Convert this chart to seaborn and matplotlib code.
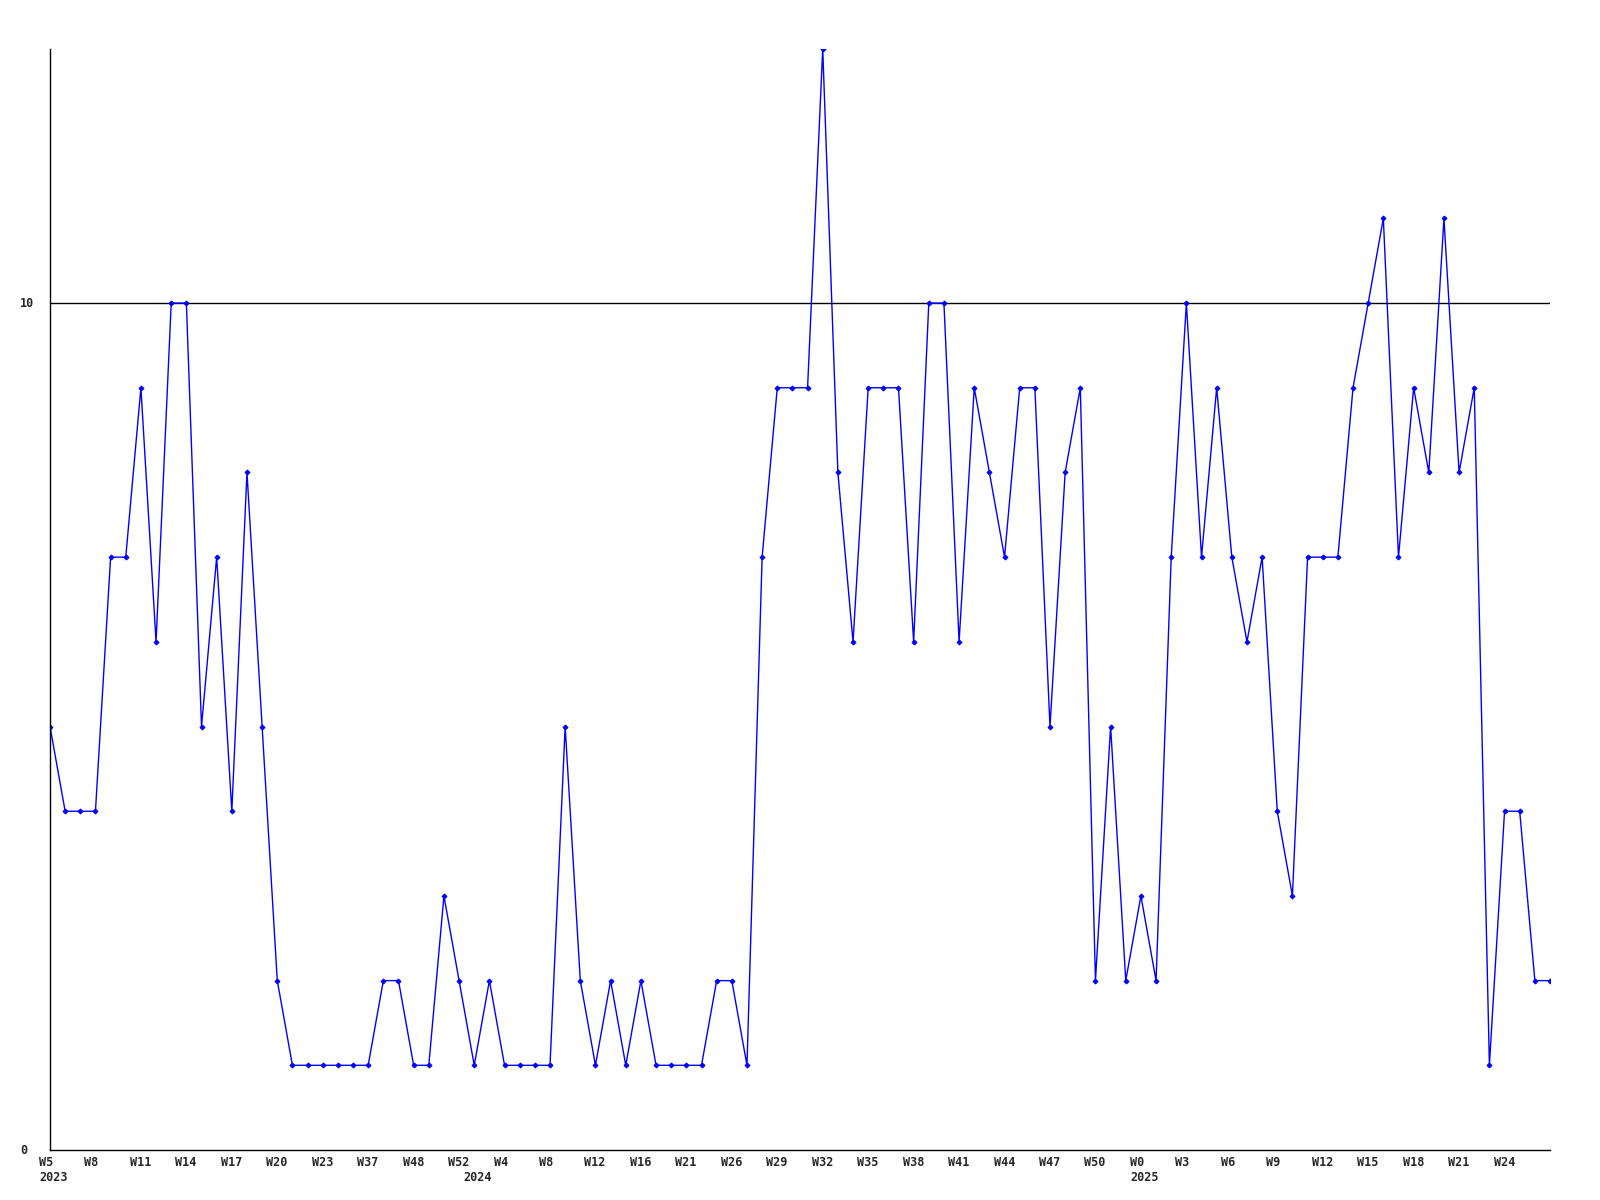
import matplotlib
matplotlib.use("Agg")
import matplotlib.pyplot as plt
import matplotlib.transforms as mtransforms
import seaborn as sns
import pandas as pd

# ---- data ----
values = [5, 4, 4, 4, 7, 7, 9, 6, 10, 10,
          5, 7, 4, 8, 5, 2, 1, 1, 1, 1,
          1, 1, 2, 2, 1, 1, 3, 2, 1, 2,
          1, 1, 1, 1, 5, 2, 1, 2, 1, 2,
          1, 1, 1, 1, 2, 2, 1, 7, 9, 9,
          9, 13, 8, 6, 9, 9, 9, 6, 10, 10,
          6, 9, 8, 7, 9, 9, 5, 8, 9, 2,
          5, 2, 3, 2, 7, 10, 7, 9, 7, 6,
          7, 4, 3, 7, 7, 7, 9, 10, 11, 7,
          9, 8, 11, 8, 9, 1, 4, 4, 2, 2]
tick_labels = ["W5", "W8", "W11", "W14", "W17", "W20", "W23", "W37", "W48",
               "W52", "W4", "W8", "W12", "W16", "W21", "W26", "W29", "W32",
               "W35", "W38", "W41", "W44", "W47", "W50", "W0", "W3", "W6",
               "W9", "W12", "W15", "W18", "W21", "W24"]
tick_step = 3
year_labels = ["2023", "2024", "2025"]
year_positions = [0, 28, 72]
y_ticks = [0, 10]
ref_line = 10

df = pd.DataFrame({"idx": range(len(values)), "value": values})

sns.set_theme(style="white")
plt.rcParams["font.family"] = ["DejaVu Sans Mono"]

fig = plt.figure(figsize=(16, 12), dpi=100)
W, H = 1600, 1200
ax = fig.add_axes([50 / W, (H - 1150) / H, 1500 / W, (1150 - 49) / H])

sns.lineplot(data=df, x="idx", y="value", ax=ax, color="#0000ff",
             linewidth=1.0, marker="D", markersize=2.5,
             markeredgecolor="#0000ff", markerfacecolor="#0000ff")
ax.axhline(ref_line, color="black", linewidth=1.0, zorder=1)

ax.set_xlim(0, len(values) - 1)
ax.set_ylim(0, 13)
ax.set_xlabel("")
ax.set_ylabel("")
ax.grid(False)
for s in ["top", "right"]:
    ax.spines[s].set_visible(False)
for s in ["left", "bottom"]:
    ax.spines[s].set_color("black")
    ax.spines[s].set_linewidth(1.0)

font = dict(family="DejaVu Sans Mono", weight="bold", size=8.5)

xt = list(range(0, len(tick_labels) * tick_step, tick_step))
ax.set_xticks(xt)
ax.set_xticklabels(tick_labels, ha="left", va="top", **font)
ax.tick_params(axis="x", length=0, pad=4.5)
offx = mtransforms.ScaledTranslation(-11 / 100, 0, fig.dpi_scale_trans)
for lbl in ax.get_xticklabels():
    lbl.set_transform(lbl.get_transform() + offx)

ax.set_yticks(y_ticks)
ax.set_yticklabels([str(v) for v in y_ticks], ha="left", va="center", **font)
ax.tick_params(axis="y", length=0, pad=0)
offy = mtransforms.ScaledTranslation(-30 / 100, 0, fig.dpi_scale_trans)
for lbl in ax.get_yticklabels():
    lbl.set_transform(lbl.get_transform() + offy)

# year labels under the week labels
ytrans = mtransforms.blended_transform_factory(ax.transData, ax.transAxes)
for pos, yr in zip(year_positions, year_labels):
    ax.text(pos, 0, yr, transform=ytrans + mtransforms.ScaledTranslation(-11 / 100, -21 / 100, fig.dpi_scale_trans),
            ha="left", va="top", **font)

fig.savefig("out.png", dpi=100, facecolor="white")
